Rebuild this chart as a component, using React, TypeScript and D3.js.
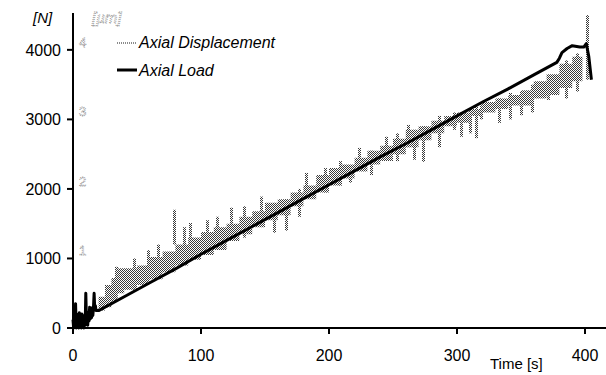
import * as d3 from 'd3';

// Axial load [N] vs time [s]
const loadTime = [
  0, 0.5, 1, 1.5, 2, 2.5, 3, 3.5, 4, 4.5, 5, 5.5, 6, 6.5, 7, 7.5, 8, 8.5, 9, 9.5, 10, 10.5, 11, 11.5, 12,
  12.5, 13, 13.5, 14, 14.5, 15, 15.5, 16, 16.5, 17, 17.5, 18, 20,
  40, 60, 80, 100, 120, 140, 160, 180, 200, 220, 240, 260, 280, 300, 320, 340, 360, 378,
  380, 382, 386, 390, 396, 399, 401, 403, 405,
];
const loadValue = [
  120, 0, 180, 40, 350, 0, 200, 60, 170, 0, 220, 40, 190, 0, 200, 70, 160, 0, 180, 40, 500, 120, 220,
  40, 230, 100, 300, 130, 260, 150, 290, 180, 300, 500, 260, 320, 250, 250,
  450, 650, 850, 1060, 1260, 1460, 1660, 1860, 2060, 2260, 2460, 2650, 2850, 3050, 3250, 3440, 3640, 3820,
  3880, 3960, 4020, 4060, 4040, 4040, 4090, 3900, 3570,
];

// Axial displacement [um] band (upper / lower envelope)
const dispTime = [
  20, 25, 30, 35, 40, 50, 60, 70, 80, 90, 100, 110, 120, 130, 140, 150, 160, 170, 180, 190, 200, 210,
  220, 230, 240, 250, 260, 270, 280, 290, 300, 310, 320, 330, 340, 350, 360, 370, 380, 390, 398,
];
const dispUpper = [
  0.45, 0.62, 0.72, 0.86, 0.86, 0.9, 1.02, 1.1, 1.2, 1.3, 1.38, 1.45, 1.5, 1.6, 1.68, 1.8, 1.85, 1.95,
  2.05, 2.2, 2.3, 2.35, 2.45, 2.55, 2.62, 2.72, 2.85, 2.9, 2.98, 3.05, 3.1, 3.15, 3.25, 3.3, 3.35, 3.42,
  3.55, 3.65, 3.8, 3.9, 3.95,
];
const dispLower = [
  0.25, 0.3, 0.38, 0.5, 0.55, 0.62, 0.7, 0.8, 0.9, 0.98, 1.05, 1.12, 1.25, 1.35, 1.45, 1.55, 1.62, 1.75,
  1.85, 1.95, 2.05, 2.15, 2.25, 2.35, 2.4, 2.5, 2.6, 2.7, 2.8, 2.9, 2.95, 3.05, 3.1, 3.15, 3.2, 3.2, 3.3,
  3.35, 3.45, 3.55, 3.6,
];
// isolated displacement spikes
const spikeTime = [
  33, 47, 58, 66, 78, 86, 91, 104, 112, 123, 133, 146, 156, 166, 176, 181, 196, 208, 216, 223, 232, 244,
  252, 261, 266, 273, 285, 297, 302, 309, 314, 318, 332, 341, 349, 358, 370, 384, 393, 401,
];
const spikeTop = [
  0.88, 1.0, 1.12, 1.2, 1.7, 1.45, 1.51, 1.55, 1.6, 1.73, 1.75, 1.89, 1.8, 1.85, 2.0, 2.23, 2.3, 2.4,
  2.3, 2.59, 2.55, 2.75, 2.8, 2.92, 2.85, 2.9, 3.05, 3.1, 3.05, 3.15, 3.2, 3.25, 3.3, 3.38, 3.4, 3.5, 3.6,
  3.85, 3.95, 4.5,
];
const spikeBottom = [
  0.5, 0.55, 0.75, 0.8, 1.2, 1.0, 1.2, 1.15, 1.2, 1.4, 1.3, 1.6, 1.37, 1.4, 1.6, 2.0, 1.95, 2.05, 2.09,
  2.35, 2.2, 2.45, 2.4, 2.6, 2.42, 2.39, 2.6, 2.85, 2.75, 2.8, 2.73, 3.0, 2.95, 3.0, 3.06, 3.1, 3.28, 3.3,
  3.4, 3.57,
];

const xTicks = [0, 100, 200, 300, 400];
const yTicks = [0, 1000, 2000, 3000, 4000];
const umTicks = [1, 2, 3, 4];

const W = 606;
const H = 375;
const font = '"Liberation Sans", Arial, sans-serif';

export default function App() {
  const x = d3.scaleLinear().domain([0, 400]).range([73, 585]);
  const y = d3.scaleLinear().domain([0, 4530]).range([328, 13]);
  const yUm = d3.scaleLinear().domain([0, 4.53]).range([328, 13]);

  const band = d3
    .area<number>()
    .x((i) => x(dispTime[i]))
    .y0((i) => yUm(dispLower[i]))
    .y1((i) => yUm(dispUpper[i]))
    .curve(d3.curveStepAfter);

  const load = d3
    .line<number>()
    .x((i) => x(loadTime[i]))
    .y((i) => y(loadValue[i]));

  return (
    <svg
      width={W}
      height={H}
      style={{ position: 'absolute', left: 0, top: 0, background: '#fff' }}
    >
      <defs>
        <pattern id="stip" width={2} height={2} patternUnits="userSpaceOnUse">
          <rect x={0} y={0} width={1} height={1} fill="#3a3a3a" />
          <rect x={1} y={1} width={1} height={1} fill="#3a3a3a" />
        </pattern>
      </defs>

      {/* displacement band */}
      <path d={band(d3.range(dispTime.length)) || ''} fill="url(#stip)" />
      {spikeTime.map((t, i) => (
        <rect
          key={i}
          x={Math.round(x(t))}
          y={yUm(spikeTop[i])}
          width={3}
          height={yUm(spikeBottom[i]) - yUm(spikeTop[i])}
          fill="url(#stip)"
        />
      ))}

      {/* load */}
      <path
        d={load(d3.range(loadTime.length)) || ''}
        fill="none"
        stroke="#000"
        strokeWidth={3}
        strokeLinejoin="round"
      />

      {/* axes */}
      <line x1={x(0)} x2={x(0)} y1={13} y2={y(0) + 1} stroke="#000" strokeWidth={2} />
      <line x1={x(0) - 1} x2={W} y1={y(0)} y2={y(0)} stroke="#000" strokeWidth={2} />
      {yTicks.map((t) => (
        <g key={t}>
          <line x1={x(0) - 6} x2={x(0)} y1={y(t)} y2={y(t)} stroke="#000" strokeWidth={2} />
          <text x={61} y={y(t) + 6} textAnchor="end" fontFamily={font} fontSize={16}>
            {t}
          </text>
        </g>
      ))}
      {xTicks.map((t) => (
        <g key={t}>
          <line x1={x(t)} x2={x(t)} y1={y(0)} y2={y(0) + 6} stroke="#000" strokeWidth={2} />
          <text x={x(t)} y={361} textAnchor="middle" fontFamily={font} fontSize={16}>
            {t}
          </text>
        </g>
      ))}
      {umTicks.map((t) => (
        <text
          key={t}
          x={79}
          y={yUm(t) - 3}
          fontFamily={font}
          fontSize={13}
          fill="#fff"
          stroke="#888"
          strokeWidth={0.8}
          strokeDasharray="1 1"
        >
          {t}
        </text>
      ))}

      {/* axis units */}
      <text x={33} y={23} fontFamily={font} fontSize={15} fontStyle="italic">
        [N]
      </text>
      <text
        x={92}
        y={23}
        fontFamily={font}
        fontSize={15}
        fontStyle="italic"
        fill="#fff"
        stroke="#888"
        strokeWidth={0.8}
        strokeDasharray="1 1"
      >
        [µm]
      </text>
      <text x={490} y={369} fontFamily={font} fontSize={15}>
        Time [s]
      </text>

      {/* legend */}
      <line x1={117} x2={137} y1={43} y2={43} stroke="#666" strokeWidth={1.5} strokeDasharray="1 1" />
      <text x={139} y={48} fontFamily={font} fontSize={16} fontStyle="italic">
        Axial Displacement
      </text>
      <line x1={117} x2={137} y1={70} y2={70} stroke="#000" strokeWidth={3} />
      <text x={139} y={76} fontFamily={font} fontSize={16} fontStyle="italic">
        Axial Load
      </text>
    </svg>
  );
}
